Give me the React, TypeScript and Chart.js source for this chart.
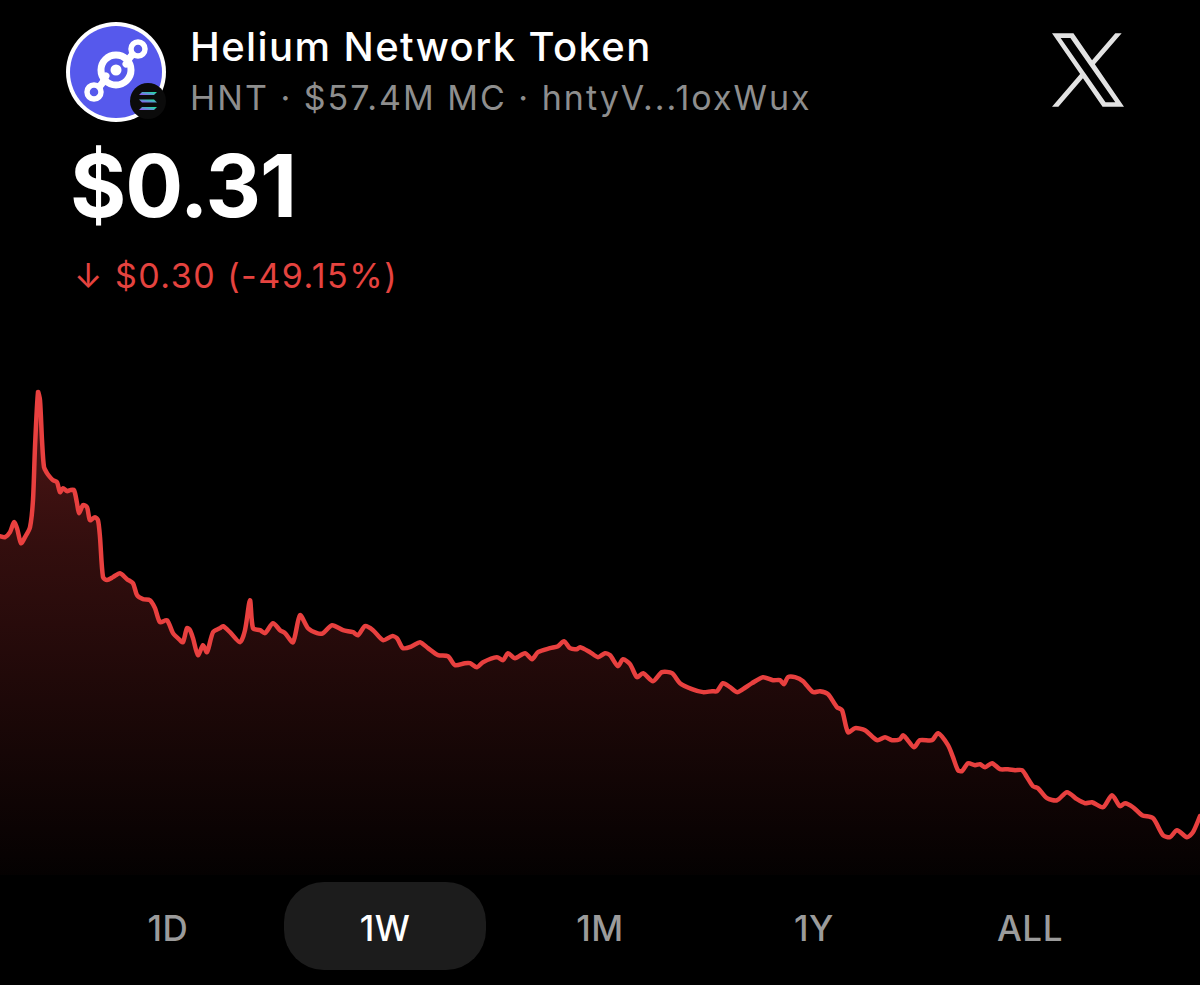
import React, { useEffect, useRef } from "react";
import { Chart, registerables } from "chart.js";

Chart.register(...registerables);

// Time (hours into the week) and HNT price (USD)
const hours: number[] = [
  0, 0.7, 1.4, 1.96, 2.38, 2.94, 3.5, 4.2, 4.62, 4.9,
  5.32, 5.6, 5.88, 6.16, 6.58, 7, 7.42, 7.98, 8.4, 8.82,
  9.38, 9.8, 10.36, 10.78, 11.06, 11.62, 12.18, 12.6, 13.3, 13.72,
  14, 14.42, 14.98, 15.82, 16.8, 17.78, 18.62, 19.18, 20.02, 21,
  21.7, 22.4, 23.38, 24.22, 25.2, 25.62, 26.18, 26.6, 27.02, 27.72,
  28.42, 28.98, 29.82, 30.8, 31.22, 32.2, 33.6, 34.3, 35, 35.42,
  36.4, 37.1, 38.22, 39.2, 39.9, 41.02, 42, 43.12, 44.38, 45.22,
  46.48, 48.02, 49.42, 50.12, 51.1, 52.22, 53.62, 54.88, 55.58, 56.42,
  57.68, 58.8, 59.92, 61.32, 62.72, 63.7, 65.1, 65.8, 66.78, 67.62,
  69.58, 70.42, 71.12, 72.1, 73.5, 74.48, 75.32, 77, 78.12, 78.96,
  79.8, 80.78, 81.2, 82.6, 83.72, 84.7, 85.4, 86.52, 87.22, 88.2,
  89.18, 90.02, 91.42, 92.68, 94.08, 95.2, 96.88, 98.42, 99.68, 100.38,
  101.22, 102.2, 103.18, 104.02, 105.28, 106.82, 108.22, 109.2, 109.76, 110.32,
  111.3, 112.42, 113.82, 114.8, 115.92, 117.18, 117.88, 118.72, 119.7, 121.1,
  122.78, 123.9, 124.88, 126, 126.42, 126.98, 127.96, 128.8, 130.48, 131.32,
  132.72, 133.42, 134.12, 134.68, 135.52, 136.5, 137.2, 137.9, 138.88, 140,
  141.12, 142.1, 143.08, 143.78, 144.62, 145.32, 146.58, 147.98, 149.38, 150.78,
  151.9, 152.88, 154.42, 155.68, 156.8, 157.5, 158.62, 159.88, 161.42, 162.82,
  163.8, 164.78, 166.18, 167.02, 168,
];

const prices: number[] = [
  0.61, 0.6089, 0.6143, 0.625, 0.6186, 0.6025, 0.6089, 0.6196, 0.6486, 0.7053,
  0.7643, 0.7557, 0.7128, 0.6839, 0.6775, 0.6732, 0.67, 0.6679, 0.6571, 0.6614,
  0.6582, 0.6593, 0.6593, 0.6454, 0.6346, 0.6432, 0.6411, 0.6271, 0.6303, 0.6271,
  0.6089, 0.5661, 0.5629, 0.5661, 0.5703, 0.5639, 0.5596, 0.5468, 0.5425, 0.5414,
  0.5329, 0.5179, 0.52, 0.5061, 0.4986, 0.4964, 0.5114, 0.5093, 0.5007, 0.4825,
  0.4932, 0.4857, 0.5071, 0.5114, 0.5136, 0.5071, 0.4964, 0.5093, 0.5414, 0.5114,
  0.5093, 0.5061, 0.5168, 0.5093, 0.5061, 0.4964, 0.5254, 0.5114, 0.5061, 0.5061,
  0.5146, 0.5093, 0.5071, 0.5039, 0.5136, 0.5093, 0.4986, 0.5029, 0.5007, 0.49,
  0.4921, 0.4964, 0.49, 0.4825, 0.4814, 0.4718, 0.4739, 0.4739, 0.4696, 0.475,
  0.4804, 0.4771, 0.4846, 0.4793, 0.4846, 0.4782, 0.4857, 0.49, 0.4921, 0.4975,
  0.49, 0.4889, 0.4911, 0.4857, 0.4804, 0.4846, 0.4825, 0.4707, 0.4782, 0.4729,
  0.4589, 0.4632, 0.4546, 0.4643, 0.4632, 0.4525, 0.4461, 0.4429, 0.4439, 0.4439,
  0.4525, 0.4482, 0.4429, 0.4461, 0.4525, 0.4589, 0.4557, 0.4557, 0.4514, 0.4589,
  0.4589, 0.4546, 0.4429, 0.4439, 0.4407, 0.4268, 0.4236, 0.4, 0.4043, 0.4021,
  0.3914, 0.3946, 0.3914, 0.3925, 0.3968, 0.3925, 0.3839, 0.3914, 0.3914, 0.3989,
  0.3861, 0.3732, 0.3593, 0.3582, 0.3668, 0.3646, 0.3657, 0.3625, 0.3668, 0.3604,
  0.3604, 0.3593, 0.3593, 0.3518, 0.3421, 0.34, 0.3293, 0.3271, 0.3357, 0.3282,
  0.3239, 0.325, 0.3196, 0.3325, 0.3207, 0.3239, 0.3196, 0.3111, 0.3079, 0.2896,
  0.2875, 0.295, 0.2875, 0.2929, 0.31,
];

const ranges: string[] = ["1D", "1W", "1M", "1Y", "ALL"];
const activeRange = "1W";

const tokenName = "Helium Network Token";
const tokenMeta = "HNT · $57.4M MC · hntyV...1oxWux";
const priceText = "$0.31";
const changeText = "↓ $0.30 (-49.15%)";

const FONT = "Inter, 'Noto Sans', sans-serif";

function PriceChart() {
  const ref = useRef<HTMLCanvasElement | null>(null);
  useEffect(() => {
    if (!ref.current) return;
    const points = hours.map((h, i) => ({ x: h, y: prices[i] }));
    const chart = new Chart(ref.current, {
      type: "line",
      data: {
        datasets: [
          {
            data: points,
            borderColor: "#e8403f",
            borderWidth: 4.5,
            pointRadius: 0,
            tension: 0.25,
            borderJoinStyle: "round",
            borderCapStyle: "round",
            fill: "start",
            backgroundColor: (ctx: any) => {
              const c = ctx.chart;
              const area = c.chartArea;
              if (!area) return "rgba(232,64,63,0.2)";
              const g = c.ctx.createLinearGradient(0, area.top, 0, area.bottom);
              g.addColorStop(0, "rgba(232,64,63,0.36)");
              g.addColorStop(0.35, "rgba(232,64,63,0.22)");
              g.addColorStop(1, "rgba(232,64,63,0.02)");
              return g;
            },
          },
        ],
      },
      options: {
        animation: false,
        responsive: true,
        maintainAspectRatio: false,
        layout: { padding: 0 },
        plugins: { legend: { display: false }, tooltip: { enabled: false } },
        scales: {
          x: { type: "linear", min: 0, max: 168, display: false },
          y: { min: 0.247, max: 0.788, display: false },
        },
      },
    });
    return () => chart.destroy();
  }, []);
  return (
    <div style={{ position: "absolute", left: 0, top: 370, width: 1200, height: 505 }}>
      <canvas ref={ref} />
    </div>
  );
}

function Logo() {
  return (
    <svg width={120} height={120} viewBox="0 0 120 120" style={{ position: "absolute", left: 56, top: 12 }}>
      <circle cx={60} cy={60} r={50} fill="#ffffff" />
      <circle cx={60} cy={60} r={46} fill="#5659ec" />
      <g stroke="#ffffff" fill="none" strokeLinecap="round">
        <circle cx={60} cy={58} r={15} strokeWidth={7} />
        <circle cx={82} cy={37} r={7} strokeWidth={5.5} />
        <circle cx={38} cy={80} r={7} strokeWidth={5.5} />
        <path d="M76 43 C72 47 72 50 70 52" strokeWidth={7} />
        <path d="M44 74 C48 70 48 67 50 64" strokeWidth={7} />
      </g>
      <circle cx={60} cy={58} r={5.5} fill="#ffffff" />
      <circle cx={92} cy={89} r={18} fill="#0b0b0b" />
      <defs>
        <linearGradient id="sol" x1="0" y1="1" x2="1" y2="0">
          <stop offset="0" stopColor="#9945ff" />
          <stop offset="1" stopColor="#14f195" />
        </linearGradient>
      </defs>
      <g fill="url(#sol)">
        <path d="M86 80 L101 80 L98 83 L83 83 Z" />
        <path d="M83 87.5 L98 87.5 L101 90.5 L86 90.5 Z" />
        <path d="M86 95 L101 95 L98 98 L83 98 Z" />
      </g>
    </svg>
  );
}

function XLogo() {
  return (
    <svg width={72} height={74} viewBox="0 0 1200 1227" style={{ position: "absolute", left: 1052, top: 33 }}>
      <path
        fill="#e2e2e2"
        d="M714.163 519.284L1160.89 0H1055.03L667.137 450.887L357.328 0H0L468.492 681.821L0 1226.37H105.866L515.491 750.218L842.672 1226.37H1200L714.163 519.284ZM569.165 687.828L521.697 619.934L144.011 79.6944H306.615L611.412 515.685L658.88 583.579L1055.08 1150.3H892.476L569.165 687.828Z"
      />
    </svg>
  );
}

export default function App() {
  const btnCenters = [168, 385, 600, 814, 1030];
  return (
    <div style={{ position: "fixed", left: 0, top: 0, width: 1200, height: 985, background: "#000", overflow: "hidden", fontFamily: FONT }}>
      <Logo />
      <div style={{ position: "absolute", left: 190, top: 27, fontSize: 40, lineHeight: 1, color: "#fff", fontWeight: 500, whiteSpace: "nowrap", letterSpacing: 1.4 }}>
        {tokenName}
      </div>
      <div style={{ position: "absolute", left: 190, top: 81, fontSize: 34, lineHeight: 1, color: "#8e8e8e", whiteSpace: "nowrap", letterSpacing: 2 }}>
        {tokenMeta}
      </div>
      <XLogo />
      <div style={{ position: "absolute", left: 70, top: 143, fontSize: 86, lineHeight: 1, color: "#fff", fontWeight: 700, whiteSpace: "nowrap", letterSpacing: -1 }}>
        {priceText}
      </div>
      <div style={{ position: "absolute", left: 74, top: 259, fontSize: 34, lineHeight: 1, color: "#e5433f", whiteSpace: "nowrap", letterSpacing: 1.5 }}>
        {changeText}
      </div>
      <PriceChart />
      <div style={{ position: "absolute", left: 284, top: 882, width: 202, height: 88, borderRadius: 40, background: "#1c1c1c" }} />
      {ranges.map((r, i) => (
        <div
          key={r}
          style={{
            position: "absolute",
            left: btnCenters[i] - 60,
            width: 120,
            top: 911,
            textAlign: "center",
            fontSize: 35,
            lineHeight: 1,
            fontWeight: 500,
            letterSpacing: 0.5,
            color: r === activeRange ? "#ffffff" : "#9b9b9b",
          }}
        >
          {r}
        </div>
      ))}
    </div>
  );
}
